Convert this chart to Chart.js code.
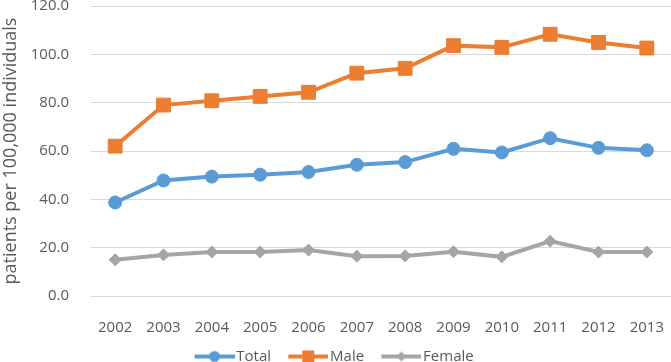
<!DOCTYPE html>
<html>
<head>
<meta charset="utf-8">
<script src="https://cdn.jsdelivr.net/npm/chart.js@4"></script>
<style>
  html, body { margin: 0; padding: 0; background: #fff; overflow: hidden; }
  #wrap { position: relative; width: 671px; height: 374px; }
</style>
</head>
<body>
<div id="wrap"><canvas id="myChart"></canvas></div>
<script>
const years = ['2002', '2003', '2004', '2005', '2006', '2007', '2008', '2009', '2010', '2011', '2012', '2013'];
const total = [38.7, 47.8, 49.4, 50.2, 51.3, 54.3, 55.4, 60.9, 59.4, 65.3, 61.3, 60.3];
const male = [62.0, 79.0, 80.8, 82.6, 84.3, 92.2, 94.2, 103.6, 102.9, 108.3, 104.9, 102.6];
const female = [15.0, 17.0, 18.2, 18.2, 19.0, 16.5, 16.6, 18.3, 16.2, 22.7, 18.2, 18.2];
const yTicks = [0, 20, 40, 60, 80, 100, 120];

const textColor = '#595959';
const font = { family: "'Open Sans', 'Noto Sans', sans-serif", size: 15 };

// small canvas with a line and marker, used as legend symbol
// (wider than the legend box so the line nearly touches the text)
function legendSymbol(color, style) {
    const c = document.createElement('canvas');
    c.width = 43;
    c.height = 16;
    const ctx = c.getContext('2d');
    ctx.strokeStyle = color;
    ctx.fillStyle = color;
    ctx.lineWidth = 4;
    ctx.beginPath();
    ctx.moveTo(3, 8);
    ctx.lineTo(43, 8);
    ctx.stroke();
    ctx.beginPath();
    if (style === 'circle') {
        ctx.arc(23, 8, 5.5, 0, Math.PI * 2);
    } else if (style === 'rect') {
        ctx.rect(17, 2, 12, 12);
    } else {
        ctx.moveTo(23, 3); ctx.lineTo(28, 8); ctx.lineTo(23, 13); ctx.lineTo(18, 8);
        ctx.closePath();
    }
    ctx.fill();
    return c;
}

const symbols = [
    legendSymbol('#5B9BD5', 'circle'),
    legendSymbol('#ED7D31', 'rect'),
    legendSymbol('#A5A5A5', 'diamond')
];

const myChart = document.getElementById('myChart');

new Chart(myChart, {
    type: 'line',
    data: {
        labels: years,
        datasets: [{
            label: 'Total',
            data: total,
            borderColor: '#5B9BD5',
            backgroundColor: '#5B9BD5',
            borderWidth: 4,
            pointStyle: 'circle',
            pointRadius: 6.5,
            pointBorderWidth: 1
        }, {
            label: 'Male',
            data: male,
            borderColor: '#ED7D31',
            backgroundColor: '#ED7D31',
            borderWidth: 4,
            pointStyle: 'rect',
            pointRadius: 9.8,
            pointBorderWidth: 1
        }, {
            label: 'Female',
            data: female,
            borderColor: '#A5A5A5',
            backgroundColor: '#A5A5A5',
            borderWidth: 4,
            pointStyle: 'rectRot',
            pointRadius: 6,
            pointBorderWidth: 1
        }]
    },
    options: {
        responsive: true,
        maintainAspectRatio: false,
        animation: false,
        layout: { autoPadding: false, padding: { top: 6, right: 0, left: 0, bottom: 0 } },
        scales: {
            x: {
                offset: true,
                grid: { display: false, drawTicks: false },
                border: { display: false },
                ticks: { color: textColor, font: font, padding: 23, maxRotation: 0 },
                afterFit: scale => {
                    // shorter box so the legend sits closer; labels are not clipped to it
                    scale.height = 33;
                    scale.paddingLeft = 0;
                    scale.paddingRight = 0;
                    scale._computeLabelArea = () => undefined;
                }
            },
            y: {
                min: 0,
                max: 120,
                afterBuildTicks: scale => {
                    scale.ticks = yTicks.map(v => ({ value: v }));
                },
                afterFit: scale => {
                    scale.width = 91;
                    scale.paddingTop = 0;
                    scale.paddingBottom = 0;
                },
                grid: { color: '#D9D9D9', lineWidth: 1, drawTicks: false },
                border: { display: false },
                ticks: {
                    color: textColor,
                    font: { family: font.family, size: 15, lineHeight: 0.8 },
                    padding: 22,
                    callback: v => v.toFixed(1)
                },
                title: {
                    display: true,
                    text: 'patients per 100,000 individuals',
                    color: textColor,
                    font: { family: font.family, size: 18 },
                    padding: { top: 0, bottom: 0 }
                }
            }
        },
        plugins: {
            legend: {
                position: 'bottom',
                labels: {
                    color: textColor,
                    font: font,
                    usePointStyle: true,
                    pointStyleWidth: 31.5,
                    padding: 20,
                    generateLabels: chart => {
                        const items = Chart.defaults.plugins.legend.labels.generateLabels(chart);
                        items.forEach((item, i) => { item.pointStyle = symbols[i]; });
                        return items;
                    }
                }
            },
            tooltip: { enabled: false }
        }
    }
});
</script>
</body>
</html>
